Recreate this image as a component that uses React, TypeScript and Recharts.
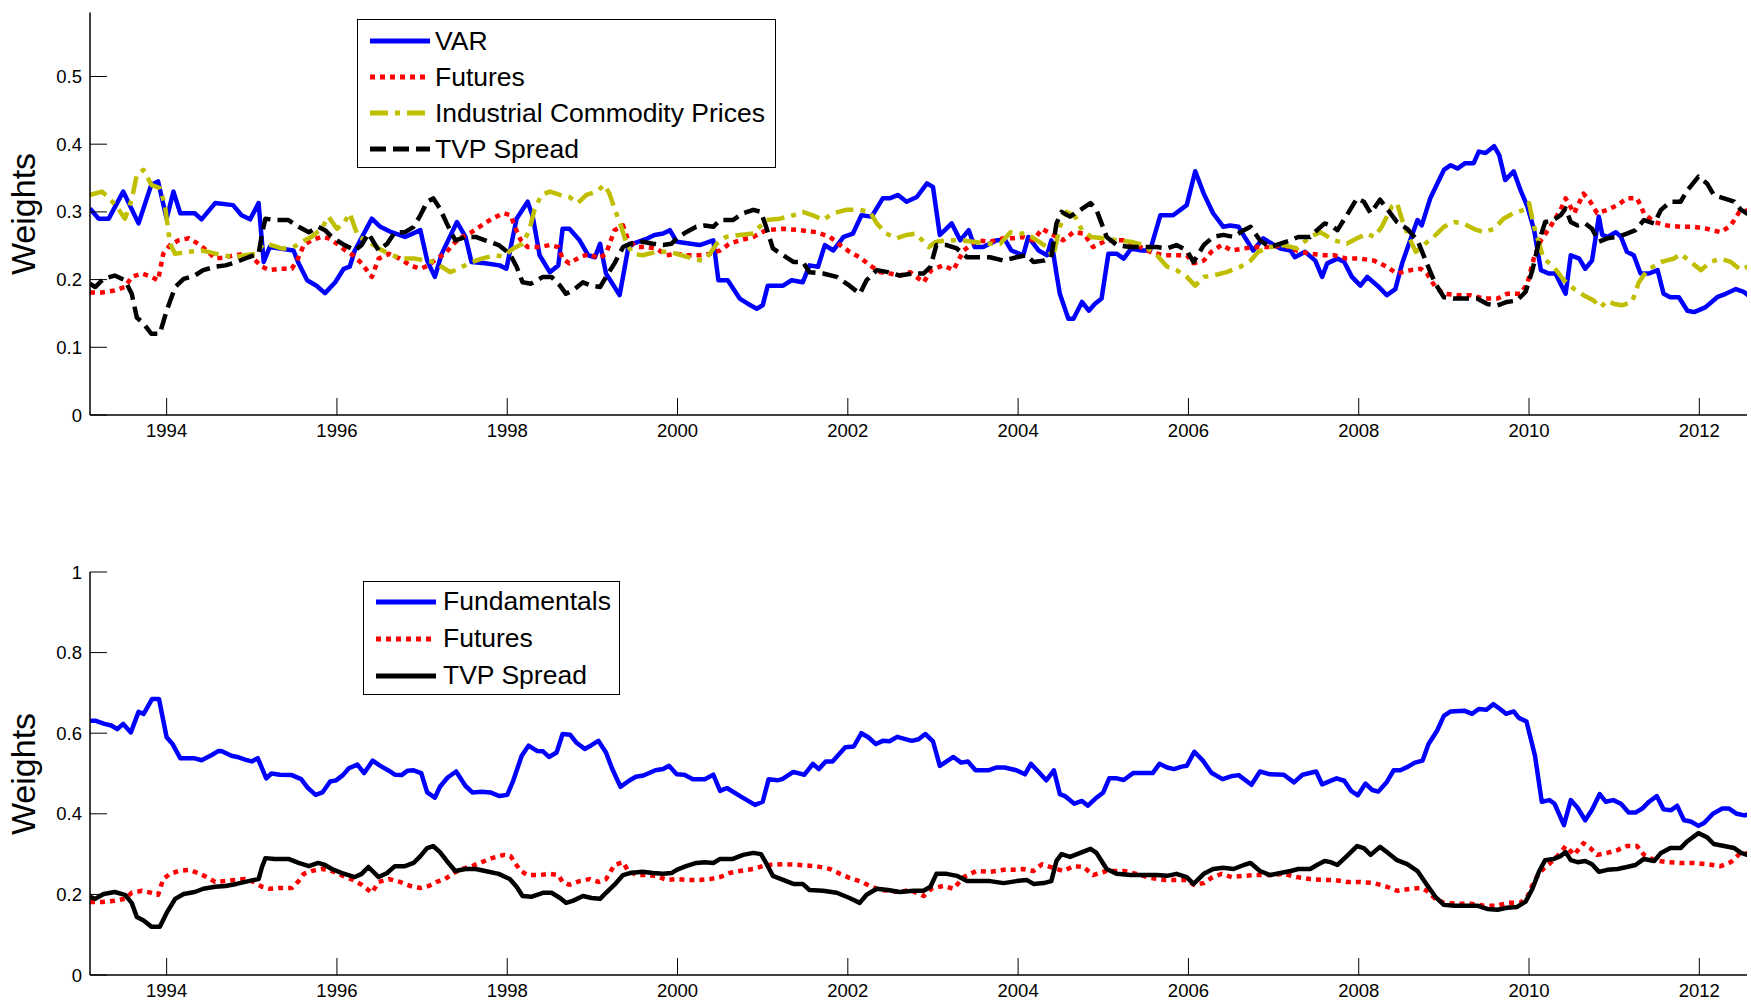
import { LineChart, Line, XAxis, YAxis, Legend } from "recharts";

const FONT = '"Liberation Sans", Arial, Helvetica, sans-serif';
const TICK_LEN = 17;

const YEAR_TICKS = [1994, 1996, 1998, 2000, 2002, 2004, 2006, 2008, 2010, 2012];
const YEAR_DOMAIN: [number, number] = [1993.1, 2012.56];
const TOP_WEIGHT_TICKS = [0, 0.1, 0.2, 0.3, 0.4, 0.5];
const BOTTOM_WEIGHT_TICKS = [0, 0.2, 0.4, 0.6, 0.8, 1];

// [year, weight] pairs
const varWeights: [number, number][] = [
  [1993.1, 0.305], [1993.2, 0.29], [1993.32, 0.29], [1993.49, 0.33], [1993.67, 0.283], [1993.82, 0.34], [1993.9, 0.345],
  [1994.0, 0.29], [1994.08, 0.33], [1994.16, 0.298], [1994.33, 0.298], [1994.41, 0.289], [1994.57, 0.313], [1994.78, 0.31],
  [1994.88, 0.295], [1994.98, 0.289], [1995.08, 0.313], [1995.14, 0.226], [1995.21, 0.248], [1995.49, 0.243], [1995.55, 0.224],
  [1995.65, 0.199], [1995.76, 0.191], [1995.86, 0.18], [1995.98, 0.196], [1996.08, 0.216], [1996.15, 0.219], [1996.21, 0.243],
  [1996.41, 0.29], [1996.51, 0.278], [1996.64, 0.27], [1996.8, 0.263], [1996.98, 0.273], [1997.06, 0.228], [1997.15, 0.204],
  [1997.23, 0.238], [1997.41, 0.285], [1997.51, 0.263], [1997.58, 0.226], [1997.74, 0.224], [1997.91, 0.221], [1997.99, 0.216],
  [1998.11, 0.29], [1998.24, 0.315], [1998.3, 0.293], [1998.38, 0.236], [1998.5, 0.211], [1998.6, 0.221], [1998.65, 0.275],
  [1998.73, 0.275], [1998.85, 0.258], [1998.95, 0.236], [1999.03, 0.233], [1999.09, 0.253], [1999.16, 0.209], [1999.32, 0.177],
  [1999.42, 0.246], [1999.48, 0.253], [1999.65, 0.261], [1999.73, 0.266], [1999.83, 0.268], [1999.91, 0.273], [1999.99, 0.256],
  [2000.26, 0.251], [2000.42, 0.258], [2000.48, 0.199], [2000.59, 0.199], [2000.73, 0.172], [2000.83, 0.164], [2000.93, 0.157],
  [2001.0, 0.162], [2001.06, 0.191], [2001.24, 0.191], [2001.34, 0.199], [2001.47, 0.196], [2001.55, 0.221], [2001.65, 0.219],
  [2001.73, 0.251], [2001.83, 0.243], [2001.95, 0.263], [2002.06, 0.268], [2002.16, 0.295], [2002.28, 0.293], [2002.41, 0.32],
  [2002.49, 0.32], [2002.59, 0.325], [2002.69, 0.315], [2002.81, 0.322], [2002.93, 0.342], [2003.0, 0.337], [2003.08, 0.266],
  [2003.14, 0.273], [2003.22, 0.283], [2003.32, 0.258], [2003.42, 0.273], [2003.49, 0.248], [2003.59, 0.248], [2003.75, 0.258],
  [2003.85, 0.258], [2003.92, 0.243], [2004.06, 0.236], [2004.12, 0.263], [2004.24, 0.243], [2004.34, 0.236], [2004.39, 0.258],
  [2004.45, 0.209], [2004.49, 0.179], [2004.59, 0.142], [2004.65, 0.142], [2004.75, 0.167], [2004.83, 0.154], [2004.9, 0.164],
  [2004.98, 0.172], [2005.06, 0.238], [2005.16, 0.238], [2005.24, 0.231], [2005.33, 0.246], [2005.45, 0.243], [2005.55, 0.243],
  [2005.67, 0.295], [2005.82, 0.295], [2005.98, 0.31], [2006.08, 0.36], [2006.18, 0.327], [2006.29, 0.298], [2006.41, 0.278],
  [2006.49, 0.28], [2006.59, 0.278], [2006.67, 0.261], [2006.76, 0.243], [2006.88, 0.261], [2006.98, 0.253], [2007.08, 0.246],
  [2007.2, 0.243], [2007.25, 0.233], [2007.37, 0.241], [2007.49, 0.228], [2007.57, 0.204], [2007.63, 0.224], [2007.75, 0.231],
  [2007.83, 0.226], [2007.92, 0.204], [2008.02, 0.191], [2008.1, 0.204], [2008.22, 0.191], [2008.33, 0.177], [2008.43, 0.186],
  [2008.51, 0.224], [2008.59, 0.253], [2008.69, 0.288], [2008.74, 0.28], [2008.84, 0.32], [2009.0, 0.362], [2009.08, 0.369],
  [2009.16, 0.364], [2009.25, 0.372], [2009.35, 0.372], [2009.41, 0.389], [2009.49, 0.387], [2009.59, 0.397], [2009.65, 0.384],
  [2009.72, 0.347], [2009.82, 0.36], [2009.9, 0.332], [2009.98, 0.308], [2010.06, 0.273], [2010.14, 0.214], [2010.23, 0.209],
  [2010.31, 0.209], [2010.37, 0.194], [2010.43, 0.179], [2010.49, 0.236], [2010.59, 0.231], [2010.66, 0.216], [2010.74, 0.228],
  [2010.82, 0.293], [2010.86, 0.266], [2010.92, 0.263], [2011.02, 0.27], [2011.08, 0.263], [2011.15, 0.241], [2011.23, 0.236],
  [2011.31, 0.209], [2011.41, 0.209], [2011.51, 0.214], [2011.58, 0.179], [2011.66, 0.174], [2011.76, 0.174], [2011.86, 0.154],
  [2011.94, 0.152], [2012.07, 0.159], [2012.21, 0.174], [2012.31, 0.179], [2012.43, 0.186], [2012.52, 0.182], [2012.6, 0.174],
];

const futuresWeights: [number, number][] = [
  [1993.1, 0.181], [1993.24, 0.181], [1993.39, 0.184], [1993.51, 0.189], [1993.59, 0.204], [1993.71, 0.209], [1993.82, 0.204],
  [1993.9, 0.199], [1993.96, 0.238], [1994.04, 0.251], [1994.14, 0.258], [1994.26, 0.261], [1994.37, 0.253], [1994.47, 0.243],
  [1994.57, 0.231], [1994.69, 0.233], [1994.8, 0.236], [1994.92, 0.238], [1995.02, 0.231], [1995.12, 0.219], [1995.21, 0.214],
  [1995.33, 0.216], [1995.47, 0.216], [1995.55, 0.233], [1995.61, 0.251], [1995.7, 0.258], [1995.82, 0.263], [1995.9, 0.261],
  [1996.0, 0.253], [1996.1, 0.243], [1996.19, 0.236], [1996.29, 0.224], [1996.35, 0.214], [1996.41, 0.204], [1996.49, 0.231],
  [1996.61, 0.238], [1996.74, 0.231], [1996.86, 0.221], [1996.98, 0.216], [1997.08, 0.221], [1997.17, 0.231], [1997.27, 0.238],
  [1997.37, 0.253], [1997.47, 0.263], [1997.58, 0.27], [1997.7, 0.28], [1997.82, 0.29], [1997.96, 0.298], [1998.04, 0.295],
  [1998.09, 0.278], [1998.16, 0.258], [1998.24, 0.248], [1998.38, 0.248], [1998.5, 0.251], [1998.6, 0.248], [1998.65, 0.231],
  [1998.73, 0.224], [1998.85, 0.233], [1998.97, 0.238], [1999.07, 0.231], [1999.16, 0.238], [1999.26, 0.273], [1999.36, 0.28],
  [1999.42, 0.258], [1999.52, 0.248], [1999.63, 0.248], [1999.75, 0.246], [1999.87, 0.236], [1999.99, 0.238], [2000.1, 0.236],
  [2000.26, 0.236], [2000.38, 0.238], [2000.5, 0.243], [2000.61, 0.253], [2000.73, 0.258], [2000.89, 0.263], [2001.04, 0.273],
  [2001.24, 0.275], [2001.44, 0.273], [2001.63, 0.27], [2001.79, 0.263], [2001.91, 0.251], [2002.02, 0.241], [2002.14, 0.233],
  [2002.26, 0.221], [2002.38, 0.211], [2002.49, 0.209], [2002.61, 0.206], [2002.73, 0.211], [2002.89, 0.196], [2002.98, 0.214],
  [2003.12, 0.221], [2003.24, 0.214], [2003.36, 0.243], [2003.51, 0.258], [2003.67, 0.256], [2003.83, 0.261], [2003.94, 0.261],
  [2004.06, 0.263], [2004.18, 0.258], [2004.28, 0.275], [2004.41, 0.266], [2004.53, 0.258], [2004.65, 0.27], [2004.77, 0.268],
  [2004.88, 0.248], [2005.04, 0.258], [2005.24, 0.258], [2005.39, 0.251], [2005.55, 0.241], [2005.71, 0.236], [2005.86, 0.236],
  [2005.98, 0.236], [2006.06, 0.224], [2006.18, 0.228], [2006.27, 0.241], [2006.39, 0.251], [2006.51, 0.243], [2006.65, 0.246],
  [2006.8, 0.248], [2006.96, 0.248], [2007.12, 0.251], [2007.27, 0.243], [2007.43, 0.238], [2007.59, 0.236], [2007.71, 0.236],
  [2007.86, 0.231], [2008.02, 0.231], [2008.18, 0.228], [2008.33, 0.219], [2008.45, 0.209], [2008.61, 0.214], [2008.73, 0.216],
  [2008.8, 0.209], [2008.9, 0.189], [2009.0, 0.179], [2009.16, 0.177], [2009.31, 0.177], [2009.47, 0.172], [2009.63, 0.172],
  [2009.74, 0.179], [2009.9, 0.179], [2009.98, 0.194], [2010.06, 0.233], [2010.14, 0.258], [2010.25, 0.278], [2010.37, 0.303],
  [2010.43, 0.32], [2010.53, 0.298], [2010.64, 0.327], [2010.72, 0.315], [2010.8, 0.298], [2010.92, 0.303], [2011.04, 0.31],
  [2011.15, 0.32], [2011.27, 0.32], [2011.35, 0.298], [2011.47, 0.285], [2011.62, 0.28], [2011.78, 0.278], [2011.94, 0.278],
  [2012.09, 0.275], [2012.25, 0.27], [2012.37, 0.28], [2012.47, 0.3], [2012.6, 0.303],
];

const industrialWeights: [number, number][] = [
  [1993.1, 0.325], [1993.24, 0.33], [1993.33, 0.32], [1993.43, 0.305], [1993.51, 0.29], [1993.59, 0.318], [1993.65, 0.355],
  [1993.73, 0.362], [1993.82, 0.34], [1993.92, 0.335], [1993.98, 0.31], [1994.04, 0.253], [1994.1, 0.238], [1994.26, 0.241],
  [1994.41, 0.243], [1994.49, 0.241], [1994.65, 0.236], [1994.8, 0.233], [1994.92, 0.236], [1995.04, 0.238], [1995.14, 0.253],
  [1995.23, 0.251], [1995.35, 0.246], [1995.47, 0.246], [1995.59, 0.256], [1995.7, 0.263], [1995.82, 0.275], [1995.9, 0.293],
  [1996.0, 0.275], [1996.08, 0.283], [1996.15, 0.298], [1996.25, 0.263], [1996.35, 0.258], [1996.49, 0.246], [1996.61, 0.238],
  [1996.76, 0.231], [1996.92, 0.231], [1997.04, 0.228], [1997.15, 0.226], [1997.23, 0.219], [1997.33, 0.211], [1997.43, 0.216],
  [1997.55, 0.224], [1997.7, 0.231], [1997.86, 0.236], [1997.95, 0.234], [1998.07, 0.246], [1998.18, 0.253], [1998.26, 0.273],
  [1998.32, 0.303], [1998.4, 0.325], [1998.5, 0.33], [1998.62, 0.325], [1998.73, 0.322], [1998.83, 0.313], [1998.93, 0.325],
  [1999.05, 0.33], [1999.14, 0.34], [1999.2, 0.327], [1999.26, 0.305], [1999.34, 0.278], [1999.4, 0.253], [1999.48, 0.238],
  [1999.59, 0.236], [1999.75, 0.241], [1999.91, 0.241], [2000.04, 0.236], [2000.18, 0.231], [2000.3, 0.228], [2000.38, 0.238],
  [2000.46, 0.253], [2000.57, 0.263], [2000.73, 0.266], [2000.89, 0.268], [2001.04, 0.288], [2001.2, 0.29], [2001.36, 0.295],
  [2001.47, 0.3], [2001.59, 0.295], [2001.71, 0.288], [2001.83, 0.298], [2001.98, 0.303], [2002.14, 0.303], [2002.26, 0.3],
  [2002.34, 0.283], [2002.45, 0.268], [2002.57, 0.261], [2002.69, 0.266], [2002.8, 0.268], [2002.95, 0.248], [2003.04, 0.256],
  [2003.16, 0.258], [2003.32, 0.258], [2003.47, 0.256], [2003.63, 0.253], [2003.79, 0.253], [2003.91, 0.27], [2004.02, 0.268],
  [2004.1, 0.268], [2004.22, 0.258], [2004.34, 0.248], [2004.41, 0.233], [2004.49, 0.278], [2004.57, 0.3], [2004.67, 0.293],
  [2004.75, 0.273], [2004.86, 0.263], [2005.0, 0.261], [2005.16, 0.258], [2005.32, 0.256], [2005.47, 0.251], [2005.63, 0.236],
  [2005.75, 0.219], [2005.86, 0.214], [2005.98, 0.204], [2006.08, 0.191], [2006.18, 0.204], [2006.29, 0.206], [2006.45, 0.211],
  [2006.61, 0.219], [2006.73, 0.228], [2006.82, 0.241], [2006.96, 0.248], [2007.12, 0.251], [2007.27, 0.246], [2007.43, 0.263],
  [2007.55, 0.27], [2007.71, 0.258], [2007.86, 0.253], [2007.98, 0.261], [2008.1, 0.268], [2008.18, 0.263], [2008.27, 0.278],
  [2008.39, 0.308], [2008.45, 0.313], [2008.51, 0.288], [2008.59, 0.263], [2008.67, 0.241], [2008.76, 0.251], [2008.88, 0.263],
  [2009.0, 0.278], [2009.12, 0.285], [2009.23, 0.283], [2009.35, 0.275], [2009.47, 0.27], [2009.59, 0.275], [2009.7, 0.29],
  [2009.82, 0.298], [2009.94, 0.303], [2010.0, 0.313], [2010.06, 0.278], [2010.12, 0.253], [2010.17, 0.231], [2010.29, 0.219],
  [2010.41, 0.199], [2010.53, 0.186], [2010.64, 0.177], [2010.76, 0.169], [2010.84, 0.159], [2010.92, 0.169], [2011.0, 0.164],
  [2011.09, 0.162], [2011.21, 0.167], [2011.29, 0.196], [2011.39, 0.214], [2011.55, 0.226], [2011.7, 0.231], [2011.78, 0.238],
  [2011.9, 0.226], [2012.02, 0.214], [2012.13, 0.226], [2012.25, 0.231], [2012.37, 0.226], [2012.49, 0.214], [2012.6, 0.221],
];

const tvpSpreadWeights: [number, number][] = [
  [1993.1, 0.194], [1993.16, 0.189], [1993.26, 0.201], [1993.39, 0.206], [1993.51, 0.199], [1993.59, 0.179], [1993.65, 0.144],
  [1993.73, 0.135], [1993.82, 0.12], [1993.92, 0.12], [1994.0, 0.154], [1994.1, 0.189], [1994.2, 0.201], [1994.33, 0.206],
  [1994.43, 0.214], [1994.57, 0.219], [1994.69, 0.221], [1994.82, 0.226], [1994.96, 0.233], [1995.08, 0.238], [1995.12, 0.268],
  [1995.16, 0.29], [1995.27, 0.288], [1995.43, 0.288], [1995.55, 0.278], [1995.67, 0.27], [1995.78, 0.278], [1995.86, 0.273],
  [1995.94, 0.263], [1996.06, 0.253], [1996.21, 0.243], [1996.29, 0.251], [1996.37, 0.268], [1996.49, 0.243], [1996.59, 0.253],
  [1996.68, 0.27], [1996.8, 0.27], [1996.9, 0.278], [1996.98, 0.295], [1997.06, 0.315], [1997.13, 0.32], [1997.21, 0.305],
  [1997.29, 0.283], [1997.39, 0.258], [1997.51, 0.263], [1997.63, 0.263], [1997.74, 0.258], [1997.9, 0.251], [1998.03, 0.238],
  [1998.11, 0.219], [1998.18, 0.196], [1998.28, 0.194], [1998.42, 0.204], [1998.52, 0.204], [1998.62, 0.191], [1998.69, 0.179],
  [1998.77, 0.184], [1998.89, 0.196], [1998.99, 0.191], [1999.09, 0.189], [1999.16, 0.204], [1999.26, 0.224], [1999.36, 0.248],
  [1999.44, 0.253], [1999.59, 0.256], [1999.71, 0.253], [1999.83, 0.251], [1999.93, 0.253], [1999.99, 0.261], [2000.1, 0.27],
  [2000.22, 0.278], [2000.32, 0.28], [2000.42, 0.278], [2000.5, 0.288], [2000.65, 0.288], [2000.77, 0.298], [2000.89, 0.303],
  [2000.98, 0.3], [2001.04, 0.278], [2001.12, 0.246], [2001.24, 0.236], [2001.36, 0.226], [2001.47, 0.226], [2001.55, 0.211],
  [2001.71, 0.209], [2001.87, 0.204], [2002.02, 0.191], [2002.14, 0.179], [2002.22, 0.199], [2002.34, 0.214], [2002.47, 0.211],
  [2002.61, 0.206], [2002.77, 0.209], [2002.89, 0.209], [2002.97, 0.219], [2003.04, 0.251], [2003.16, 0.251], [2003.28, 0.246],
  [2003.4, 0.233], [2003.51, 0.233], [2003.67, 0.233], [2003.83, 0.228], [2003.98, 0.233], [2004.1, 0.236], [2004.18, 0.226],
  [2004.3, 0.228], [2004.39, 0.233], [2004.45, 0.283], [2004.51, 0.3], [2004.61, 0.293], [2004.73, 0.303], [2004.85, 0.313],
  [2004.92, 0.303], [2004.98, 0.283], [2005.04, 0.263], [2005.16, 0.251], [2005.32, 0.248], [2005.47, 0.248], [2005.63, 0.248],
  [2005.75, 0.246], [2005.86, 0.251], [2005.98, 0.243], [2006.06, 0.226], [2006.18, 0.251], [2006.29, 0.263], [2006.41, 0.266],
  [2006.53, 0.263], [2006.65, 0.273], [2006.73, 0.278], [2006.84, 0.258], [2006.96, 0.248], [2007.08, 0.253], [2007.2, 0.258],
  [2007.29, 0.263], [2007.43, 0.263], [2007.51, 0.273], [2007.6, 0.283], [2007.67, 0.28], [2007.75, 0.273], [2007.86, 0.295],
  [2007.98, 0.32], [2008.06, 0.315], [2008.14, 0.298], [2008.25, 0.318], [2008.33, 0.305], [2008.45, 0.285], [2008.57, 0.275],
  [2008.69, 0.258], [2008.8, 0.224], [2008.9, 0.194], [2009.0, 0.174], [2009.12, 0.172], [2009.27, 0.172], [2009.39, 0.172],
  [2009.51, 0.164], [2009.63, 0.162], [2009.74, 0.167], [2009.86, 0.169], [2009.96, 0.182], [2010.04, 0.214], [2010.12, 0.258],
  [2010.19, 0.285], [2010.29, 0.288], [2010.37, 0.295], [2010.43, 0.305], [2010.49, 0.285], [2010.57, 0.28], [2010.66, 0.283],
  [2010.74, 0.275], [2010.82, 0.256], [2010.92, 0.261], [2011.04, 0.263], [2011.15, 0.268], [2011.25, 0.273], [2011.35, 0.288],
  [2011.47, 0.283], [2011.55, 0.303], [2011.66, 0.315], [2011.78, 0.315], [2011.86, 0.332], [2011.99, 0.352], [2012.09, 0.342],
  [2012.17, 0.325], [2012.29, 0.32], [2012.41, 0.315], [2012.49, 0.303], [2012.6, 0.295],
];

const fundamentalsWeights: [number, number][] = [
  [1993.1, 0.631], [1993.16, 0.631], [1993.27, 0.623], [1993.35, 0.619], [1993.42, 0.61], [1993.49, 0.623], [1993.58, 0.602],
  [1993.67, 0.653], [1993.73, 0.648], [1993.83, 0.685], [1993.91, 0.685], [1994.0, 0.59], [1994.07, 0.573], [1994.16, 0.538],
  [1994.32, 0.538], [1994.41, 0.533], [1994.53, 0.546], [1994.61, 0.556], [1994.65, 0.555], [1994.76, 0.544], [1994.83, 0.541],
  [1994.93, 0.534], [1995.0, 0.53], [1995.07, 0.538], [1995.17, 0.488], [1995.23, 0.5], [1995.33, 0.497], [1995.47, 0.496],
  [1995.58, 0.486], [1995.66, 0.464], [1995.75, 0.447], [1995.83, 0.453], [1995.92, 0.48], [1995.99, 0.483], [1996.07, 0.496],
  [1996.14, 0.513], [1996.24, 0.522], [1996.32, 0.501], [1996.42, 0.532], [1996.51, 0.519], [1996.61, 0.507], [1996.68, 0.497],
  [1996.76, 0.496], [1996.83, 0.507], [1996.9, 0.508], [1996.99, 0.501], [1997.06, 0.453], [1997.15, 0.44], [1997.21, 0.467],
  [1997.3, 0.49], [1997.4, 0.505], [1997.51, 0.469], [1997.59, 0.453], [1997.7, 0.455], [1997.8, 0.453], [1997.91, 0.444],
  [1998.0, 0.447], [1998.07, 0.482], [1998.17, 0.544], [1998.25, 0.569], [1998.35, 0.556], [1998.42, 0.555], [1998.49, 0.541],
  [1998.58, 0.552], [1998.65, 0.598], [1998.74, 0.596], [1998.81, 0.577], [1998.91, 0.561], [1998.98, 0.569], [1999.07, 0.581],
  [1999.16, 0.552], [1999.23, 0.513], [1999.33, 0.467], [1999.43, 0.482], [1999.51, 0.492], [1999.6, 0.495], [1999.74, 0.508],
  [1999.83, 0.511], [1999.9, 0.519], [1999.99, 0.498], [2000.08, 0.497], [2000.18, 0.486], [2000.32, 0.486], [2000.42, 0.497],
  [2000.5, 0.457], [2000.58, 0.464], [2000.75, 0.442], [2000.91, 0.422], [2001.0, 0.43], [2001.07, 0.486], [2001.17, 0.483],
  [2001.23, 0.486], [2001.36, 0.504], [2001.49, 0.497], [2001.59, 0.524], [2001.66, 0.511], [2001.74, 0.53], [2001.82, 0.53],
  [2001.97, 0.565], [2002.07, 0.567], [2002.16, 0.6], [2002.24, 0.59], [2002.33, 0.573], [2002.41, 0.581], [2002.49, 0.58],
  [2002.58, 0.591], [2002.75, 0.581], [2002.83, 0.585], [2002.91, 0.598], [2003.0, 0.58], [2003.08, 0.519], [2003.24, 0.541],
  [2003.33, 0.527], [2003.41, 0.53], [2003.5, 0.508], [2003.65, 0.508], [2003.75, 0.515], [2003.84, 0.515], [2003.98, 0.508],
  [2004.08, 0.498], [2004.15, 0.524], [2004.25, 0.502], [2004.33, 0.483], [2004.42, 0.508], [2004.49, 0.449], [2004.55, 0.444],
  [2004.66, 0.425], [2004.75, 0.432], [2004.82, 0.42], [2004.92, 0.44], [2005.0, 0.453], [2005.07, 0.488], [2005.16, 0.488],
  [2005.24, 0.484], [2005.35, 0.501], [2005.58, 0.501], [2005.66, 0.524], [2005.75, 0.515], [2005.83, 0.511], [2005.92, 0.517],
  [2005.98, 0.519], [2006.07, 0.554], [2006.17, 0.532], [2006.27, 0.502], [2006.4, 0.486], [2006.5, 0.493], [2006.59, 0.496],
  [2006.74, 0.472], [2006.84, 0.505], [2006.96, 0.498], [2007.12, 0.497], [2007.24, 0.478], [2007.34, 0.497], [2007.5, 0.505],
  [2007.57, 0.473], [2007.74, 0.488], [2007.83, 0.482], [2007.91, 0.457], [2007.99, 0.446], [2008.08, 0.475], [2008.16, 0.459],
  [2008.23, 0.455], [2008.33, 0.479], [2008.41, 0.508], [2008.49, 0.508], [2008.58, 0.517], [2008.66, 0.527], [2008.75, 0.532],
  [2008.82, 0.573], [2008.92, 0.606], [2009.0, 0.643], [2009.08, 0.654], [2009.24, 0.656], [2009.33, 0.648], [2009.41, 0.66],
  [2009.5, 0.658], [2009.58, 0.672], [2009.66, 0.66], [2009.73, 0.648], [2009.82, 0.654], [2009.88, 0.638], [2009.97, 0.629],
  [2010.07, 0.544], [2010.15, 0.43], [2010.24, 0.434], [2010.3, 0.425], [2010.41, 0.372], [2010.49, 0.434], [2010.57, 0.415],
  [2010.66, 0.384], [2010.74, 0.41], [2010.83, 0.449], [2010.9, 0.43], [2010.99, 0.434], [2011.08, 0.425], [2011.17, 0.403],
  [2011.25, 0.403], [2011.33, 0.413], [2011.41, 0.43], [2011.5, 0.444], [2011.58, 0.411], [2011.67, 0.409], [2011.74, 0.42],
  [2011.82, 0.384], [2011.9, 0.381], [2011.99, 0.37], [2012.06, 0.378], [2012.16, 0.4], [2012.27, 0.413], [2012.35, 0.413],
  [2012.44, 0.4], [2012.53, 0.396], [2012.6, 0.399],
];

type Style = { stroke: string; dash?: string };
const topStyles: Record<string, Style> = {
  VAR: { stroke: "#0000ff" },
  Futures: { stroke: "#ff0000", dash: "5 5" },
  "Industrial Commodity Prices": { stroke: "#bfbf00", dash: "18 7 5 7" },
  "TVP Spread": { stroke: "#000000", dash: "16 7" },
};
const bottomStyles: Record<string, Style> = {
  Fundamentals: { stroke: "#0000ff" },
  Futures: { stroke: "#ff0000", dash: "5 5" },
  "TVP Spread": { stroke: "#000000" },
};

const rows = (pts: [number, number][]) => pts.map(([t, w]) => ({ t, w }));

type TickProps = { x?: number; y?: number; payload?: { value: number } };

const YearTick = ({ x = 0, y = 0, payload }: TickProps) => (
  <g>
    <line x1={x} x2={x} y1={y} y2={y - TICK_LEN} stroke="#000" strokeWidth={1} />
    <text x={x} y={y + 22} textAnchor="middle" fontSize={18.5} fontFamily={FONT} fill="#000">
      {payload?.value}
    </text>
  </g>
);
const TopYearTick = ({ x = 0, y = 0 }: TickProps) => (
  <line x1={x} x2={x} y1={y} y2={y + TICK_LEN} stroke="#000" strokeWidth={1} />
);
const WeightTick = ({ x = 0, y = 0, payload }: TickProps) => (
  <g>
    <line x1={x} x2={x + TICK_LEN} y1={y} y2={y} stroke="#000" strokeWidth={1} />
    <text x={x - 8} y={y + 6.5} textAnchor="end" fontSize={18.5} fontFamily={FONT} fill="#000">
      {payload?.value}
    </text>
  </g>
);
const RightWeightTick = ({ x = 0, y = 0 }: TickProps) => (
  <line x1={x} x2={x - TICK_LEN} y1={y} y2={y} stroke="#000" strokeWidth={1} />
);

// legend keeps the order of the style table (recharts sorts by name otherwise)
const makeLegend =
  (styles: Record<string, Style>, width: number, rowH: number, padTop: number, textGap: number) =>
  (props: any) => {
    const items: any[] = props.payload || [];
    const order = Object.keys(styles);
    const sorted = [...items].sort((a, b) => order.indexOf(a.value) - order.indexOf(b.value));
    return (
      <div
        style={{
          boxSizing: "border-box",
          width,
          border: "1.5px solid #000",
          background: "#fff",
          paddingTop: padTop,
          fontFamily: FONT,
          fontSize: 26.5,
          color: "#000",
        }}
      >
        {sorted.map((it) => {
          const s = styles[it.value] || { stroke: it.color };
          return (
            <div key={it.value} style={{ display: "flex", alignItems: "center", height: rowH }}>
              <svg width={72} height={12} style={{ display: "block" }}>
                <line x1={12} x2={72} y1={6} y2={6} stroke={s.stroke} strokeWidth={5} strokeDasharray={s.dash} />
              </svg>
              <span style={{ marginLeft: textGap, whiteSpace: "nowrap" }}>{it.value}</span>
            </div>
          );
        })}
      </div>
    );
  };

const axisLine = { stroke: "#000", strokeWidth: 1.5 };

const Frame = (yDomain: [number, number], yTicks: number[]) => [
  <XAxis
    key="xb"
    dataKey="t"
    type="number"
    domain={YEAR_DOMAIN}
    allowDataOverflow
    ticks={YEAR_TICKS}
    interval={0}
    height={20}
    tickSize={0}
    tickMargin={0}
    tickLine={false}
    axisLine={axisLine}
    tick={YearTick}
  />,
  <XAxis
    key="xt"
    xAxisId="top"
    orientation="top"
    dataKey="t"
    type="number"
    domain={YEAR_DOMAIN}
    allowDataOverflow
    ticks={YEAR_TICKS}
    interval={0}
    height={0}
    tickSize={0}
    tickMargin={0}
    tickLine={false}
    axisLine={axisLine}
    tick={TopYearTick}
  />,
  <YAxis
    key="yl"
    type="number"
    domain={yDomain}
    allowDataOverflow
    ticks={yTicks}
    interval={0}
    width={60}
    tickSize={0}
    tickMargin={0}
    tickLine={false}
    axisLine={axisLine}
    tick={WeightTick}
  />,
  <YAxis
    key="yr"
    yAxisId="right"
    orientation="right"
    type="number"
    domain={yDomain}
    allowDataOverflow
    ticks={yTicks}
    interval={0}
    width={0}
    tickSize={0}
    tickMargin={0}
    tickLine={false}
    axisLine={axisLine}
    tick={RightWeightTick}
  />,
];

const seriesLine = (name: string, pts: [number, number][], s: Style) => (
  <Line
    key={name}
    name={name}
    data={rows(pts)}
    dataKey="w"
    stroke={s.stroke}
    strokeWidth={4.5}
    strokeDasharray={s.dash}
    strokeLinecap="butt"
    strokeLinejoin="round"
    dot={false}
    activeDot={false}
    type="linear"
    isAnimationActive={false}
  />
);

export default function App() {
  return (
    <div style={{ position: "absolute", left: 0, top: 0, width: 1751, height: 1002, background: "#fff", fontFamily: FONT }}>
      <div style={{ position: "absolute", left: 0, top: 0 }}>
        <LineChart width={1751} height={460} margin={{ top: 12.5, right: 4, bottom: 25, left: 30 }}>
          {Frame([0, 0.5945], TOP_WEIGHT_TICKS)}
          {seriesLine("VAR", varWeights, topStyles["VAR"])}
          {seriesLine("Futures", futuresWeights, topStyles["Futures"])}
          {seriesLine("Industrial Commodity Prices", industrialWeights, topStyles["Industrial Commodity Prices"])}
          {seriesLine("TVP Spread", tvpSpreadWeights, topStyles["TVP Spread"])}
          <Legend
            layout="vertical"
            align="center"
            verticalAlign="middle"
            wrapperStyle={{ left: 357, top: 19, width: 419 }}
            content={makeLegend(topStyles, 419, 36, 3, 5)}
          />
        </LineChart>
      </div>
      <div style={{ position: "absolute", left: 0, top: 520 }}>
        <LineChart width={1751} height={482} margin={{ top: 52, right: 4, bottom: 7, left: 30 }}>
          {Frame([0, 1], BOTTOM_WEIGHT_TICKS)}
          {seriesLine("Fundamentals", fundamentalsWeights, bottomStyles["Fundamentals"])}
          {seriesLine("Futures", futuresWeights, bottomStyles["Futures"])}
          {seriesLine("TVP Spread", tvpSpreadWeights, bottomStyles["TVP Spread"])}
          <Legend
            layout="vertical"
            align="center"
            verticalAlign="middle"
            wrapperStyle={{ left: 363, top: 61, width: 257 }}
            content={makeLegend(bottomStyles, 257, 37, 1, 7)}
          />
        </LineChart>
      </div>
      <svg width={1751} height={1002} style={{ position: "absolute", left: 0, top: 0, pointerEvents: "none" }}>
        <text transform="translate(35 214) rotate(-90)" textAnchor="middle" fontSize={34} fontFamily={FONT} fill="#000">
          Weights
        </text>
        <text transform="translate(35 774) rotate(-90)" textAnchor="middle" fontSize={34} fontFamily={FONT} fill="#000">
          Weights
        </text>
      </svg>
    </div>
  );
}
